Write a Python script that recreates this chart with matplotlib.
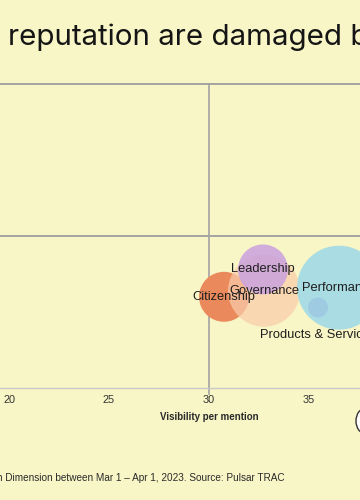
import matplotlib
matplotlib.use("Agg")
import matplotlib.pyplot as plt
from matplotlib.patches import Circle

# ---- data ----
dimensions = ["Citizenship", "Governance", "Leadership", "Performance", "Products & Services"]
visibility = [30.75, 32.75, 32.7, 36.5, 35.45]
sentiment = [-0.40, -0.36, -0.22, -0.34, -0.47]
mentions = [6.25, 12.96, 6.25, 17.64, 1.0]
colors = ["#EA8A5C", "#F8CCAA", "#CBA3DD", "#A9DCE3", "#9FCBE2"]
alphas = [1.0, 0.72, 0.88, 1.0, 1.0]
xticks = [20, 25, 30, 35]

title = "reputation are damaged by"
footer = "Reputation Dimension between Mar 1 \u2013 Apr 1, 2023. Source: Pulsar TRAC"

BG = "#F8F5C6"
W, H = 360, 500

fig = plt.figure(figsize=(3.6, 5.0), dpi=100, facecolor=BG)

# axes spans beyond visible figure on both sides (cropped view)
x_lo, x_hi = 17, 43
px_per_unit = 20.0
left_px = 9 - (20 - x_lo) * px_per_unit
width_px = (x_hi - x_lo) * px_per_unit
top_px, bottom_px = 84, 388
ax = fig.add_axes([left_px / W, 1 - bottom_px / H, width_px / W, (bottom_px - top_px) / H])
ax.set_facecolor(BG)
ax.set_xlim(x_lo, x_hi)
ax.set_ylim(-1, 1)

for s in ["top", "right", "left"]:
    ax.spines[s].set_visible(False)
ax.spines["bottom"].set_color("#C9C9C9")
ax.spines["bottom"].set_linewidth(1.0)
ax.set_yticks([])
ax.set_xticks(xticks)
ax.tick_params(axis="x", length=0, pad=5, labelsize=7.8, labelcolor="#333333")
for lab in ax.get_xticklabels():
    lab.set_fontfamily("Liberation Sans")

# quadrant lines
ax.axhline(1, color="#A3A3A3", lw=1.4, zorder=1, clip_on=False)
ax.axhline(0, color="#A3A3A3", lw=1.4, zorder=1)
ax.plot([30, 30], [1, -1.04], color="#A3A3A3", lw=1.2, zorder=1, clip_on=False)

# bubbles
scale = 207.0
order = [0, 1, 2, 3, 4]
for z, i in enumerate(order):
    ax.scatter(visibility[i], sentiment[i], s=mentions[i] * scale, color=colors[i],
               alpha=alphas[i], edgecolors="none", zorder=2 + z)

# labels
label_off = {4: -0.18}
for i, name in enumerate(dimensions):
    ax.text(visibility[i], sentiment[i] + label_off.get(i, 0), name, ha="center", va="center",
            fontsize=9.3, color="#1E1E1E", family="Liberation Sans", zorder=10)

ax.set_xlabel("Visibility per mention", fontsize=7.0, fontweight="bold", color="#2A2A2A",
              family="Liberation Sans", labelpad=5)

# title and footer
fig.text(8 / W, 1 - 37 / H, title, fontsize=21.3, color="#151515", family="Inter",
         ha="left", va="center")
fig.text(285 / W, 1 - 478 / H, footer, fontsize=7.2, color="#2A2A2A", family="Liberation Sans",
         ha="right", va="center")

# partially visible icon circle
fig.add_artist(Circle((365 / W, 1 - 421 / H), 0.025, transform=fig.transFigure,
                      facecolor="white", edgecolor="#333333", lw=1.0))

fig.savefig("out.png", dpi=100, facecolor=BG)
